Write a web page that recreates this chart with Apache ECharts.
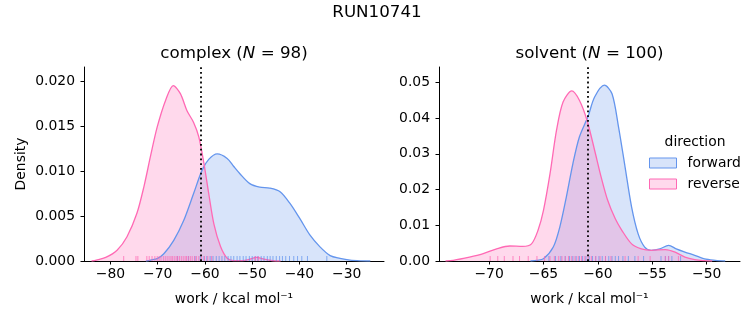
<!DOCTYPE html>
<html>
<head>
<meta charset="utf-8">
<script src="https://cdn.jsdelivr.net/npm/echarts@6/dist/echarts.min.js"></script>
<style>
html,body{margin:0;padding:0;background:#fff;}
#chart{width:753px;height:325px;}
</style>
</head>
<body>
<div id="chart"></div>
<script>
// ---------- data ----------
const suptitle = 'RUN10741';
const panelNames = ['complex', 'solvent'];
const panelN = [98, 100];
const directions = ['forward', 'reverse'];
const refLineValue = -60.9;

// complex, forward KDE
const complexForwardWork = [-72.5,-71.5,-70,-68.7,-66.6,-64.5,-62.4,-60.6,-59.2,-57.4,-55.3,-53.9,-52.6,-50.5,-48.4,-46.3,-44.1,-42.0,-39.9,-37.8,-35.7,-33.5,-31.4,-29.3,-27,-25];
const complexForwardDensity = [0,0.0001,0.0003,0.0008,0.0023,0.0045,0.0075,0.0101,0.0113,0.0119,0.0114,0.0105,0.0097,0.0086,0.0082,0.0081,0.0077,0.0064,0.0047,0.0029,0.0016,0.0006,0.0003,0.0001,0.00002,0];
// complex, reverse KDE
const complexReverseWork = [-84,-83,-81,-78.6,-76.5,-74.4,-72.9,-71.5,-70.1,-68.3,-66.7,-65.2,-63.8,-62.4,-61.3,-60.2,-59.2,-58.1,-56.7,-55.3,-54,-52,-50.5,-49.1,-47.5,-45.6,-44];
const complexReverseDensity = [0,0.0001,0.0004,0.0012,0.0027,0.0053,0.0083,0.0117,0.0149,0.0179,0.0195,0.0186,0.0167,0.0154,0.0138,0.0108,0.0075,0.0041,0.0016,0.0003,0.00005,0.00005,0.0002,0.0004,0.0002,0.00003,0];
// solvent, forward KDE
const solventForwardWork = [-66.2,-65.6,-65.0,-64.1,-63.5,-62.9,-62.3,-61.7,-60.9,-60.3,-59.4,-58.7,-58.1,-57.5,-56.9,-56.3,-55.7,-55.1,-54.3,-53.5,-52.8,-52.0,-51.1,-50.2,-49.2,-48.3];
const solventForwardDensity = [0,0.0002,0.0006,0.0039,0.0095,0.0179,0.0272,0.0347,0.0405,0.0459,0.0492,0.0468,0.0375,0.0263,0.0151,0.0076,0.0039,0.0030,0.0034,0.0044,0.0034,0.0025,0.0016,0.0006,0.0002,0];
// solvent, reverse KDE
const solventReverseWork = [-74,-73.3,-71.8,-70.6,-69.3,-68.1,-66.9,-66.1,-65.5,-65.0,-64.4,-63.8,-63.2,-62.4,-61.7,-61.0,-60.3,-59.7,-59.1,-58.4,-57.8,-56.9,-56.0,-55.1,-53.8,-52.9,-52.0,-51.1,-50.2,-49.5];
const solventReverseDensity = [0,0.0002,0.0011,0.0020,0.0034,0.0042,0.0041,0.0048,0.0086,0.0142,0.0244,0.0366,0.0445,0.0476,0.0450,0.0394,0.031,0.0235,0.017,0.0118,0.0086,0.0048,0.0034,0.0030,0.0032,0.0025,0.0011,0.0004,0.0001,0];

// rug samples (estimated positions)
const complexForwardRug = [-65.8,-63.5,-62.1,-61.0,-60.2,-59.6,-58.9,-58.3,-57.6,-57.0,-56.4,-55.8,-55.1,-54.5,-53.9,-53.2,-52.6,-51.9,-51.3,-50.6,-50.0,-49.4,-48.8,-48.1,-47.5,-46.8,-46.2,-45.6,-44.9,-44.2,-43.6,-42.9,-42.1,-41.2,-40.4,-39.5,-38.3,-34.2];
const complexReverseRug = [-77.2,-74.6,-74.2,-72.3,-71.8,-71.2,-70.6,-70.1,-69.7,-69.3,-68.8,-68.4,-68.0,-67.6,-67.2,-66.9,-66.5,-66.1,-65.8,-65.4,-65.0,-64.6,-64.2,-63.9,-63.5,-63.1,-62.7,-62.2,-61.8,-61.3,-60.7,-60.1,-59.4,-58.6,-49.3,-48.7];
const solventForwardRug = [-64.5,-63.9,-63.4,-63.0,-62.6,-62.3,-62.0,-61.7,-61.4,-61.1,-60.8,-60.5,-60.2,-59.9,-59.6,-59.3,-59.0,-58.7,-58.4,-58.1,-57.7,-57.2,-56.6,-55.8,-54.2,-53.8,-53.5,-53.2,-52.4];
const solventReverseRug = [-69.9,-69.2,-68.6,-67.8,-67.2,-66.4,-65.6,-64.9,-64.4,-64.0,-63.6,-63.3,-63.0,-62.7,-62.4,-62.1,-61.8,-61.5,-61.2,-60.9,-60.6,-60.2,-59.8,-59.3,-58.8,-57.5,-56.3,-55.2,-53.8,-53.5,-52.6];

// axes
const complexXTicks = [-80,-70,-60,-50,-40,-30];
const complexYTicks = [0,0.005,0.010,0.015,0.020];
const solventXTicks = [-70,-65,-60,-55,-50];
const solventYTicks = [0,0.01,0.02,0.03,0.04,0.05];
const complexXRange = [-85.6,-22.1];
const complexYMax = 0.02156;
const solventXRange = [-74.6,-46.94];
const solventYMax = 0.0543;

// ---------- style ----------
const FONT = 'DejaVu Sans';
const FS = 13.9;
const BLUE = '#6495ED', PINK = '#FF69B4';
const BLUE_FILL = 'rgba(100,149,237,0.25)', PINK_FILL = 'rgba(255,105,180,0.25)';

const zip = (xs, ys) => xs.map((x, i) => [x, ys[i]]);
const minus = v => (v < 0 ? '\u2212' : '') + Math.abs(v);

function xAxisCfg(gi, range, ticks) {
  return {
    type: 'value', gridIndex: gi, min: range[0], max: range[1],
    name: 'work / kcal mol\u207B\u00B9', nameLocation: 'middle', nameGap: 31,
    nameTextStyle: {fontFamily: FONT, fontSize: FS, color: '#000'},
    axisLine: {show: true, lineStyle: {color: '#000', width: 1}},
    axisTick: {show: true, length: 3.5, lineStyle: {color: '#000', width: 1}, customValues: ticks},
    axisLabel: {customValues: ticks, formatter: minus, fontFamily: FONT, fontSize: FS, color: '#000', margin: 6},
    splitLine: {show: false}
  };
}
function yAxisCfg(gi, max, ticks, dec, withName) {
  return {
    type: 'value', gridIndex: gi, min: 0, max: max,
    name: withName ? 'Density' : '', nameLocation: 'middle', nameGap: 56, nameRotate: 90,
    nameTextStyle: {fontFamily: FONT, fontSize: FS, color: '#000'},
    axisLine: {show: true, lineStyle: {color: '#000', width: 1}},
    axisTick: {show: true, length: 3.5, lineStyle: {color: '#000', width: 1}, customValues: ticks},
    axisLabel: {customValues: ticks, formatter: v => v.toFixed(dec), fontFamily: FONT, fontSize: FS, color: '#000', margin: 9},
    splitLine: {show: false}
  };
}
function kde(name, gi, xs, ys, color, fill) {
  return {
    type: 'line', name: name, xAxisIndex: gi, yAxisIndex: gi,
    data: zip(xs, ys), smooth: 0.3, symbol: 'none',
    lineStyle: {color: color, width: 1.3}, itemStyle: {color: color},
    areaStyle: {color: fill, opacity: 1, origin: 'start'}, z: 2
  };
}
function rug(gi, xs, color) {
  return {
    type: 'scatter', name: 'rug', xAxisIndex: gi, yAxisIndex: gi,
    data: xs.map(x => [x, 0]), symbol: 'rect', symbolSize: [1, 5], symbolOffset: [0, -2.5],
    itemStyle: {color: color, opacity: 0.75}, silent: true, z: 3
  };
}
function vline(gi) {
  return {
    type: 'line', name: 'ref', xAxisIndex: gi, yAxisIndex: gi, data: [], z: 5,
    markLine: {
      silent: true, symbol: ['none', 'none'], label: {show: false},
      lineStyle: {color: '#000', width: 1.8, type: [1.8, 3]},
      data: [{xAxis: refLineValue}]
    }
  };
}

const chart = echarts.init(document.getElementById('chart'), null, {renderer: 'canvas'});
chart.setOption({
  animation: false,
  backgroundColor: '#fff',
  grid: [
    {left: 84, top: 67, width: 300, height: 194},
    {left: 439, top: 67, width: 301, height: 194}
  ],
  xAxis: [xAxisCfg(0, complexXRange, complexXTicks), xAxisCfg(1, solventXRange, solventXTicks)],
  yAxis: [yAxisCfg(0, complexYMax, complexYTicks, 3, true), yAxisCfg(1, solventYMax, solventYTicks, 2, false)],
  legend: {
    data: [
      {name: directions[0], itemStyle: {color: BLUE_FILL, borderColor: BLUE, borderWidth: 1}},
      {name: directions[1], itemStyle: {color: PINK_FILL, borderColor: PINK, borderWidth: 1}}
    ],
    icon: 'rect', orient: 'vertical', left: 649, top: 156, padding: 0,
    itemWidth: 27, itemHeight: 10, itemGap: 7, selectedMode: false,
    textStyle: {fontFamily: FONT, fontSize: FS, color: '#000', padding: [0, 0, 0, 6]}
  },
  graphic: [
    {type: 'text', style: {text: suptitle, x: 377, y: 13, align: 'center', verticalAlign: 'middle', font: '16.7px "DejaVu Sans"', fill: '#000'}},
    {type: 'text', style: {
      text: '{a|' + panelNames[0] + ' (}{i|N}{a| = ' + panelN[0] + ')}', x: 234, y: 54, align: 'center', verticalAlign: 'middle',
      rich: {a: {fontFamily: FONT, fontSize: 16.7, fill: '#000'}, i: {fontFamily: FONT, fontSize: 16.7, fontStyle: 'italic', fill: '#000'}}}},
    {type: 'text', style: {
      text: '{a|' + panelNames[1] + ' (}{i|N}{a| = ' + panelN[1] + ')}', x: 589.5, y: 54, align: 'center', verticalAlign: 'middle',
      rich: {a: {fontFamily: FONT, fontSize: 16.7, fill: '#000'}, i: {fontFamily: FONT, fontSize: 16.7, fontStyle: 'italic', fill: '#000'}}}},
    {type: 'text', style: {text: 'direction', x: 695, y: 142, align: 'center', verticalAlign: 'middle', font: '13.9px "DejaVu Sans"', fill: '#000'}}
  ],
  series: [
    kde(directions[0], 0, complexForwardWork, complexForwardDensity, BLUE, BLUE_FILL),
    kde(directions[1], 0, complexReverseWork, complexReverseDensity, PINK, PINK_FILL),
    kde(directions[0], 1, solventForwardWork, solventForwardDensity, BLUE, BLUE_FILL),
    kde(directions[1], 1, solventReverseWork, solventReverseDensity, PINK, PINK_FILL),
    rug(0, complexForwardRug, BLUE), rug(0, complexReverseRug, PINK),
    rug(1, solventForwardRug, BLUE), rug(1, solventReverseRug, PINK),
    vline(0), vline(1)
  ]
});
</script>
</body>
</html>
